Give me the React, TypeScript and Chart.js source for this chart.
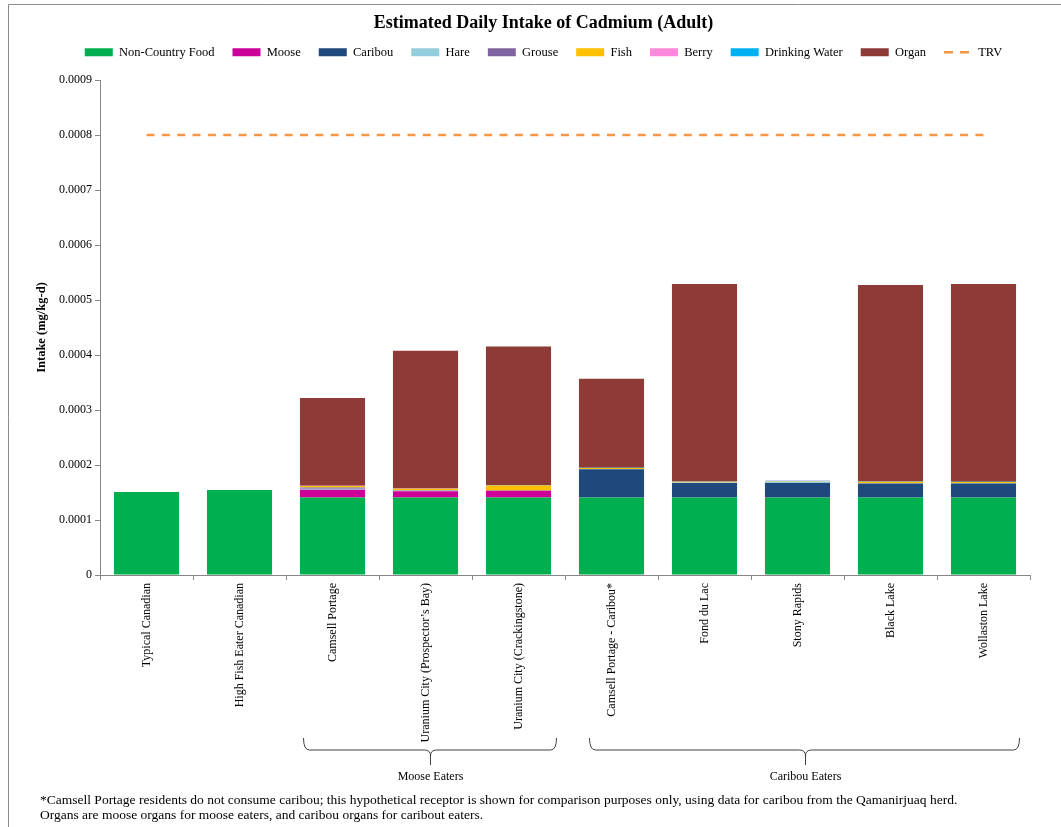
import { useEffect, useRef } from 'react';
import { Chart, registerables } from 'chart.js';

Chart.register(...registerables);

const categories = [
  'Typical Canadian',
  'High Fish Eater Canadian',
  'Camsell Portage',
  'Uranium City (Prospector’s Bay)',
  'Uranium City (Crackingstone)',
  'Camsell Portage - Caribou*',
  'Fond du Lac',
  'Stony Rapids',
  'Black Lake',
  'Wollaston Lake',
];

const nonCountryFood = [0.000151, 0.0001545, 0.000141, 0.000141, 0.000141, 0.000141, 0.000141, 0.000141, 0.000141, 0.000141];
const moose = [0, 0, 0.0000138, 0.0000115, 0.000012, 0, 0, 0, 0, 0];
const caribou = [0, 0, 0, 0, 0, 0.0000515, 0.0000265, 0.0000265, 0.0000254, 0.0000254];
const hare = [0, 0, 0.000002, 0.0000007, 0.0000003, 0.0000003, 0.0000005, 0.0000025, 0.0000005, 0.000001];
const grouse = [0, 0, 0.0000025, 0.0000007, 0.0000003, 0, 0, 0, 0, 0];
const fish = [0, 0, 0.0000025, 0.000003, 0.0000091, 0.0000017, 0.0000015, 0.000001, 0.0000025, 0.0000015];
const berry = [0, 0, 0.0000003, 0.0000002, 0.0000002, 0.0000002, 0.0000002, 0.0000003, 0.0000002, 0.0000002];
const drinkingWater = [0, 0, 0.0000003, 0.0000003, 0.0000003, 0.0000003, 0.0000003, 0.0000003, 0.0000003, 0.0000003];
const organ = [0, 0, 0.0001595, 0.0002504, 0.0002521, 0.0001619, 0.000359, 0, 0.0003574, 0.0003597];
const trv = [0.0008, 0.0008, 0.0008, 0.0008, 0.0008, 0.0008, 0.0008, 0.0008, 0.0008, 0.0008];

const groupLabels = ['Moose Eaters', 'Caribou Eaters'];
const groupFirst = [2, 5];
const groupLast = [4, 9];

const footnotes = [
  '*Camsell Portage residents do not consume caribou; this hypothetical receptor is shown for comparison purposes only, using data for caribou from the Qamanirjuaq herd.',
  'Organs are moose organs for moose eaters, and caribou organs for caribout eaters.',
];

const FONT = "'Liberation Serif', 'Times New Roman', serif";

// brace styling (fractions of a category width beyond the first/last bar centres)
const braceInset = [
  { l: 0.32, r: 0.4 },
  { l: 0.24, r: 0.38 },
];

const annotationPlugin = {
  id: 'annotations',
  afterDraw(chart: any) {
    const ctx: CanvasRenderingContext2D = chart.ctx;
    const xs = chart.scales.x;
    const cw = xs.getPixelForValue(1) - xs.getPixelForValue(0);
    ctx.save();
    // outer frame
    ctx.strokeStyle = '#8c8c8c';
    ctx.lineWidth = 1;
    ctx.beginPath();
    ctx.moveTo(8.5, 900);
    ctx.lineTo(8.5, 4.5);
    ctx.lineTo(1100, 4.5);
    ctx.stroke();

    // braces
    const yTop = 738;
    const yMid = 750;
    const yTip = 765;
    ctx.strokeStyle = '#404040';
    ctx.lineWidth = 1;
    groupLabels.forEach((label, i) => {
      const l = Math.round(xs.getPixelForValue(groupFirst[i]) - braceInset[i].l * cw) + 0.5;
      const r = Math.round(xs.getPixelForValue(groupLast[i]) + braceInset[i].r * cw) + 0.5;
      const m = Math.round((l + r) / 2) + 0.5;
      const c = 6;
      ctx.beginPath();
      ctx.moveTo(l, yTop);
      ctx.quadraticCurveTo(l, yMid, l + c, yMid);
      ctx.lineTo(m - c, yMid);
      ctx.quadraticCurveTo(m, yMid, m, yMid + c);
      ctx.lineTo(m, yTip);
      ctx.moveTo(m, yMid + c);
      ctx.quadraticCurveTo(m, yMid, m + c, yMid);
      ctx.lineTo(r - c, yMid);
      ctx.quadraticCurveTo(r, yMid, r, yTop);
      ctx.stroke();

      ctx.fillStyle = '#000';
      ctx.font = `12px ${FONT}`;
      ctx.textAlign = 'center';
      ctx.textBaseline = 'middle';
      ctx.fillText(label, m, 777);
    });

    // footnotes
    ctx.fillStyle = '#000';
    ctx.font = `13.5px ${FONT}`;
    ctx.textAlign = 'left';
    ctx.textBaseline = 'middle';
    footnotes.forEach((t, i) => ctx.fillText(t, 40, 800 + i * 15));
    ctx.restore();
  },
};

export default function App() {
  const ref = useRef<HTMLCanvasElement>(null);

  useEffect(() => {
    if (!ref.current) return;
    Chart.defaults.font.family = FONT;
    Chart.defaults.color = '#000';

    const bar = (label: string, data: number[], color: string) => ({
      type: 'bar' as const,
      label,
      data,
      backgroundColor: color,
      borderWidth: 0,
      barPercentage: 0.7,
      categoryPercentage: 1,
    });

    const chart = new Chart(ref.current, {
      type: 'bar',
      data: {
        labels: categories,
        datasets: [
          bar('Non-Country Food', nonCountryFood, '#00B050'),
          bar('Moose', moose, '#CC0099'),
          bar('Caribou', caribou, '#1F497D'),
          bar('Hare', hare, '#93CDDD'),
          bar('Grouse', grouse, '#8064A2'),
          bar('Fish', fish, '#FFC000'),
          bar('Berry', berry, '#FF88DD'),
          bar('Drinking Water', drinkingWater, '#00B0F0'),
          bar('Organ', organ, '#8E3B38'),
          {
            type: 'line' as const,
            label: 'TRV',
            data: trv,
            borderColor: '#F79646',
            backgroundColor: '#F79646',
            borderWidth: 2.5,
            borderDash: [8, 7.35],
            pointRadius: 0,
            fill: false,
            stack: 'trv',
          } as any,
        ],
      },
      options: {
        responsive: false,
        animation: false,
        layout: { padding: { left: 57, right: 31, top: 0, bottom: 0 } },
        plugins: {
          title: {
            display: true,
            text: 'Estimated Daily Intake of Cadmium (Adult)',
            color: '#000',
            font: { size: 18, weight: 'bold' },
            padding: { top: 12.2, bottom: -5.8 },
          },
          subtitle: {
            display: true,
            text: '',
            weight: 500,
            font: { size: 0 },
            padding: { top: 11.5, bottom: 0 },
          } as any,
          legend: {
            position: 'top',
            labels: {
              usePointStyle: true,
              pointStyleWidth: 28,
              boxHeight: 8,
              padding: 18,
              color: '#000',
              font: { size: 12.5 },
              generateLabels: (c: any) => {
                const items = (Chart.defaults.plugins.legend.labels as any).generateLabels(c);
                return items.map((it: any) =>
                  it.datasetIndex === 9
                    ? { ...it, pointStyle: 'line', lineWidth: 2.5, strokeStyle: '#F79646', lineDash: [9, 7] }
                    : { ...it, pointStyle: 'rect', lineWidth: 0 }
                );
              },
            },
          },
          tooltip: { enabled: false },
        },
        scales: {
          x: {
            stacked: true,
            grid: { display: true, drawOnChartArea: false, drawTicks: true, tickLength: 5, color: '#868686', offset: true },
            border: { color: '#868686' },
            ticks: { autoSkip: false, maxRotation: 90, minRotation: 90, padding: 3, color: '#000', font: { size: 12 } },
            afterFit: (s: any) => {
              s.height = 252;
            },
          },
          y: {
            stacked: true,
            min: 0,
            max: 0.0009,
            grid: { drawOnChartArea: false, tickLength: 5, color: '#868686' },
            border: { color: '#868686' },
            ticks: {
              stepSize: 0.0001,
              padding: 3,
              color: '#000',
              font: { size: 12 },
              callback: (v: any) => (Number(v) === 0 ? '0' : Number(v).toFixed(4)),
            },
            title: {
              display: true,
              text: 'Intake (mg/kg-d)',
              color: '#000',
              font: { size: 12.5, weight: 'bold' },
              padding: { top: -22.5, bottom: 0 },
            },
            afterFit: (s: any) => {
              s.width = 43;
            },
          },
        },
      } as any,
      plugins: [annotationPlugin],
    });
    return () => chart.destroy();
  }, []);

  return (
    <div style={{ position: 'fixed', left: 0, top: 0, width: 1061, height: 827, background: '#fff' }}>
      <canvas ref={ref} width={1061} height={827} style={{ display: 'block', width: 1061, height: 827 }} />
    </div>
  );
}
